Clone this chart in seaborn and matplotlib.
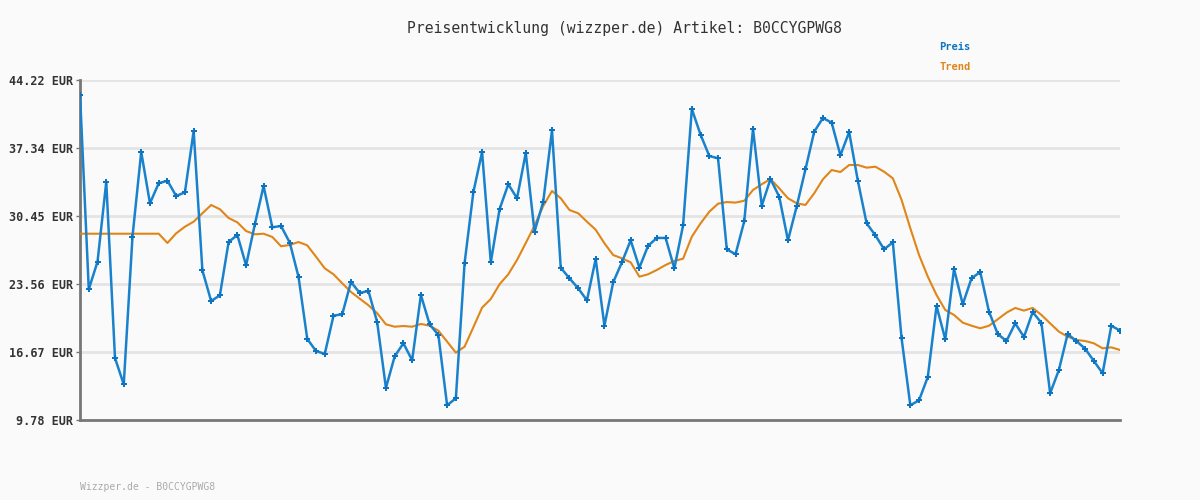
import pandas as pd
import matplotlib.pyplot as plt
import seaborn as sns

preis = [42.70, 23.02, 25.82, 33.89, 16.06, 13.39, 28.35, 36.93, 31.73, 33.76,
         34.02, 32.47, 32.84, 39.05, 24.94, 21.83, 22.41, 27.81, 28.52, 25.45,
         29.60, 33.48, 29.30, 29.43, 27.74, 24.27, 17.99, 16.77, 16.47, 20.35,
         20.49, 23.76, 22.65, 22.85, 19.68, 13.03, 16.23, 17.55, 15.83, 22.44,
         19.47, 18.39, 11.27, 11.98, 25.68, 32.84, 36.93, 25.75, 31.13, 33.66,
         32.24, 36.83, 28.86, 31.90, 39.12, 25.21, 24.13, 23.12, 21.90, 26.09,
         19.33, 23.73, 25.75, 27.98, 25.21, 27.44, 28.22, 28.22, 25.14, 29.50,
         41.28, 38.68, 36.52, 36.29, 27.07, 26.57, 29.91, 39.26, 31.49, 34.19,
         32.40, 27.98, 31.43, 35.17, 38.98, 40.37, 39.90, 36.59, 38.95, 33.99,
         29.70, 28.49, 27.07, 27.78, 18.05, 11.27, 11.78, 14.14, 21.33, 17.95,
         25.08, 21.50, 24.13, 24.77, 20.76, 18.49, 17.78, 19.57, 18.19, 20.72,
         19.61, 12.49, 14.85, 18.49, 17.78, 17.00, 15.76, 14.51, 19.33, 18.83]

trend = [28.65, 28.65, 28.65, 28.65, 28.65, 28.65, 28.65, 28.65, 28.65, 28.65,
         27.71, 28.69, 29.36, 29.87, 30.72, 31.56, 31.13, 30.24, 29.80, 28.92,
         28.59, 28.65, 28.32, 27.38, 27.51, 27.81, 27.47, 26.32, 25.14, 24.54,
         23.63, 22.75, 22.07, 21.40, 20.59, 19.47, 19.23, 19.30, 19.23, 19.51,
         19.33, 18.83, 17.72, 16.60, 17.21, 19.17, 21.16, 22.04, 23.53, 24.54,
         25.99, 27.71, 29.46, 31.46, 32.98, 32.24, 31.05, 30.72, 29.87, 29.05,
         27.68, 26.49, 26.16, 25.75, 24.30, 24.54, 24.98, 25.48, 25.89, 26.12,
         28.35, 29.70, 30.88, 31.69, 31.86, 31.80, 31.99, 33.08, 33.66, 34.19,
         33.25, 32.24, 31.73, 31.56, 32.74, 34.16, 35.10, 34.90, 35.61, 35.61,
         35.34, 35.44, 34.93, 34.26, 32.07, 29.20, 26.49, 24.30, 22.44, 20.92,
         20.42, 19.64, 19.33, 19.07, 19.33, 19.98, 20.65, 21.13, 20.86, 21.13,
         20.42, 19.57, 18.73, 18.22, 17.89, 17.78, 17.55, 17.04, 17.14, 16.87]

y_ticks = [9.78, 16.67, 23.56, 30.45, 37.34, 44.22]
y_labels = ['9.78 EUR', '16.67 EUR', '23.56 EUR', '30.45 EUR', '37.34 EUR', '44.22 EUR']

df = pd.DataFrame({'idx': range(len(preis)), 'preis': preis, 'trend': trend})

blau = '#1a82cc'
orange = '#e08518'

plt.rcParams['font.family'] = ['DejaVu Sans Mono', 'DejaVu Sans']

fig = plt.figure(figsize=(12, 5), dpi=100, facecolor='#fafafa')
ax = fig.add_axes([0.0667, 0.16, 0.8667, 0.68])
ax.set_facecolor('#fafafa')

sns.lineplot(data=df, x='idx', y='trend', color=orange, linewidth=1.5, ax=ax, zorder=3)
sns.lineplot(data=df, x='idx', y='preis', color=blau, linewidth=1.8, marker='P',
             markersize=4.5, markeredgewidth=0, markerfacecolor='#0c74c0', ax=ax, zorder=4)

ax.set_xlim(0, len(preis) - 1)
ax.set_ylim(y_ticks[0], y_ticks[-1])
ax.set_yticks(y_ticks)
ax.set_yticklabels(y_labels, fontsize=8.5, fontweight='bold', color='#333333')
ax.set_xticks([])
ax.set_xlabel('')
ax.set_ylabel('')
ax.grid(axis='y', color='#e4e4e4', linewidth=2)
ax.set_axisbelow(True)
ax.tick_params(axis='y', length=3, width=1, color='#777777', pad=2)
for s in ['top', 'right']:
    ax.spines[s].set_visible(False)
ax.spines['left'].set_color('#777777')
ax.spines['left'].set_linewidth(2)
ax.spines['bottom'].set_color('#777777')
ax.spines['bottom'].set_linewidth(2)

fig.text(0.52, 0.944, 'Preisentwicklung (wizzper.de) Artikel: B0CCYGPWG8',
         ha='center', va='center', fontsize=10.6, color='#333333')
fig.text(0.7825, 0.906, 'Preis', ha='left', va='center', fontsize=7.5,
         fontweight='bold', color='#0c74c0')
fig.text(0.7825, 0.866, 'Trend', ha='left', va='center', fontsize=7.5,
         fontweight='bold', color=orange)
fig.text(0.0667, 0.026, 'Wizzper.de - B0CCYGPWG8', ha='left', va='center',
         fontsize=7, color='#aaaaaa')

fig.savefig('out.png', dpi=100, facecolor='#fafafa')
